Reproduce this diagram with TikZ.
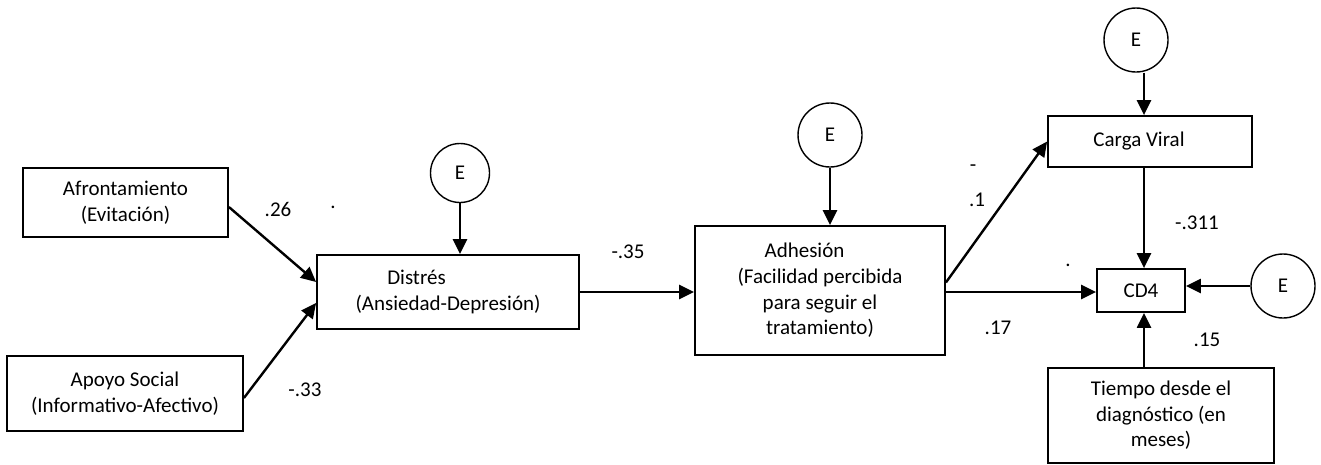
\documentclass[tikz,border=0pt]{standalone}
\usepackage{fontspec}
\setmainfont{Carlito}
\usetikzlibrary{arrows.meta,calc}

\begin{document}
\begin{tikzpicture}[x=1pt,y=-1pt,
  every node/.style={font=\fontsize{21}{25.6}\selectfont},
  var/.style={draw,line width=1.8pt,inner sep=0pt,align=center},
  err/.style={draw,circle,line width=1.4pt,inner sep=0pt,minimum size=64pt},
  coef/.style={inner sep=0pt},
  path/.style={line width=2.4pt,-{Triangle[length=15pt,width=14pt]}}
]
\useasboundingbox (0,0) rectangle (1321,464);

% observed variables
\node[var,minimum width=205pt,minimum height=69pt] (afr) at (125.5,202.5) {Afrontamiento\\(Evitación)};
\node[var,minimum width=236pt,minimum height=75pt] (apo) at (125,393.5) {Apoyo Social\\(Informativo-Afectivo)};
\node[var,minimum width=262pt,minimum height=74pt] (dis) at (448,292) {Distrés\hspace*{63pt}\\(Ansiedad-Depresión)};
\node[var,minimum width=250pt,minimum height=129pt] (adh) at (820,290.5) {Adhesión\hspace*{31pt}\\(Facilidad percibida\\para seguir el\\tratamiento)};
\node[var,minimum width=204pt,minimum height=51pt] (cv) at (1150,141.5) {Carga Viral\hspace*{22pt}};
\node[var,minimum width=88pt,minimum height=43pt] (cd4) at (1141,290.5) {CD4};
\node[var,minimum width=226pt,minimum height=95pt] (tie) at (1161,415.5) {Tiempo desde el\\diagnóstico (en\\meses)};

% error terms
\node[err,minimum size=59pt] (eD) at (460,173) {E};
\node[err] (eA) at (830,135) {E};
\node[err] (eT) at (1136,40) {E};
\node[err] (eR) at (1283,286) {E};

% paths
\draw[path] ([yshift=-4.5pt]afr.east) -- ([yshift=10pt]dis.west);
\draw[path] ([yshift=-4.5pt]apo.east) -- ([yshift=-11pt]dis.west);
\draw[path] (eD.south) -- (eD.south |- dis.north);
\draw[path] (dis.east) -- (dis.east -| adh.west);
\draw[path] (eA.south) -- (eA.south |- adh.north);
\draw[path] ([yshift=8pt]adh.east) -- (cv.west);
\draw[path] ([yshift=-1.5pt]adh.east) -- ([yshift=-1.5pt]cd4.west);
\draw[path] ([xshift=8pt]eT.south) -- ([xshift=8pt]eT.south |- cv.north);
\draw[path] ([xshift=3pt]cd4.north |- cv.south) -- ([xshift=3pt]cd4.north);
\draw[path] ([xshift=3pt]cd4.south |- tie.north) -- ([xshift=3pt]cd4.south);
\draw[path] (eR.west) -- (eR.west -| cd4.east);

% coefficients
\node[coef] (c1) at (278,209) {.26};
\node[coef] (c1b) at (333,207) {.};
\node[coef] (c2) at (305,390) {-.33};
\node[coef] (c3) at (628,252) {-.35};
\node[coef] (c4a) at (973,168) {-};
\node[coef] (c4b) at (977,200) {.1};
\node[coef] (c5) at (998,328) {.17};
\node[coef] (c5b) at (1068,265) {.};
\node[coef] (c6) at (1197,223) {-.311};
\node[coef] (c7) at (1207,340) {.15};
\end{tikzpicture}
\end{document}
